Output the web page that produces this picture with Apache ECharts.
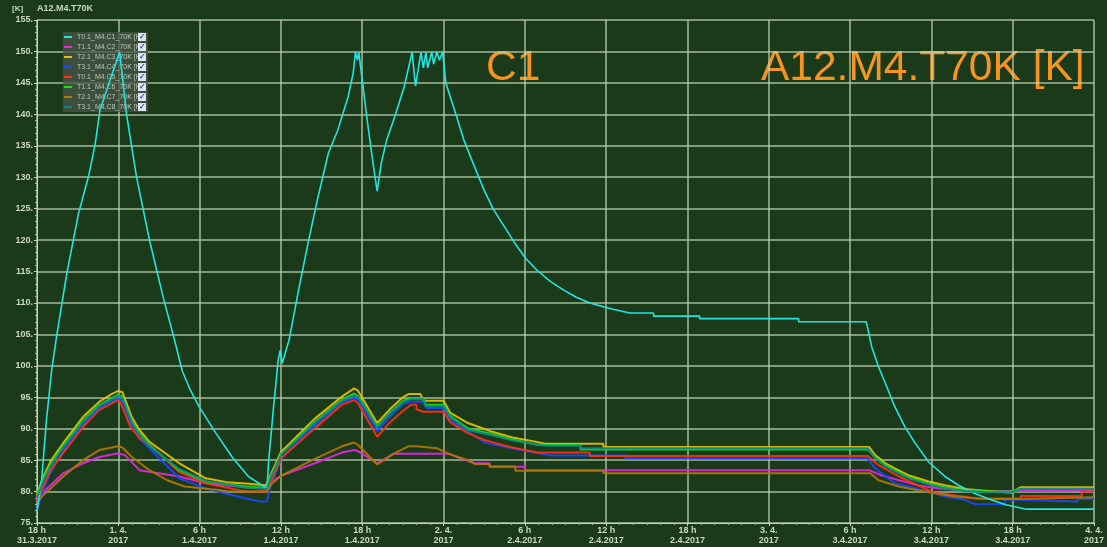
<!DOCTYPE html>
<html>
<head>
<meta charset="utf-8">
<title>A12.M4.T70K</title>
<script src="https://cdn.jsdelivr.net/npm/echarts@6/dist/echarts.min.js"></script>
<style>
  html, body { margin: 0; padding: 0; background: #1b3a1a; }
  #chart { width: 1107px; height: 547px; }
</style>
</head>
<body>
<div id="chart"></div>
<script>
// Time axis: hours elapsed since 31.3.2017 18:00, one tick every 6 h.
const startTime = Date.UTC(2017, 2, 31, 18, 0, 0);
const hourTicks = [0, 6, 12, 18, 24, 30, 36, 42, 48, 54, 60, 66, 72, 78];
const yTicks = [75, 80, 85, 90, 95, 100, 105, 110, 115, 120, 125, 130, 135, 140, 145, 150, 155];

const seriesNames = [
  'T0.1_M4.C1_70K [K]', 'T1.1_M4.C2_70K [K]', 'T2.1_M4.C3_70K [K]', 'T3.1_M4.C4_70K [K]',
  'T0.1_M4.C5_70K [K]', 'T1.1_M4.C6_70K [K]', 'T2.1_M4.C7_70K [K]', 'T3.1_M4.C8_70K [K]'
];
const seriesColors = ['#22e4e0', '#e626e0', '#e8c000', '#1c48ff', '#ff3010', '#14e014', '#b07800', '#0a8a86'];

// [hour, K]
const c1 = [[0,76.8],[0.15,79],[0.34,81.8],[0.7,91.4],[1.08,99.3],[1.47,105],[2.2,114.7],[3.06,124.2],[3.8,130.1],[4.28,135.1],[4.65,140.7],[5.4,145.5],[6.1,149.9],[6.16,150],[6.6,140.1],[7.34,130.1],[8.3,120],[9.3,111],[10.15,104.1],[10.7,99.3],[11.3,96.2],[11.96,93.5],[13.2,89.3],[14.4,85.5],[15.6,82.4],[16.6,81.0],[16.97,80.5],[17.1,85.0],[17.46,93.5],[17.8,100.9],[17.95,102.5],[18.1,100.4],[18.6,104.1],[19.3,112],[20.0,119.5],[20.7,126.5],[21.5,133.8],[22.2,137.5],[22.96,142.8],[23.33,146.5],[23.5,149.9],[23.65,148.6],[23.75,149.9],[23.94,146.5],[24.4,138.5],[24.8,132.2],[25.1,127.8],[25.4,132.2],[25.8,135.9],[26.4,139.6],[27.1,144.4],[27.68,149.9],[27.93,144.5],[28.34,149.9],[28.51,147.4],[28.7,149.9],[28.83,147.4],[29.13,149.9],[29.27,148],[29.51,149.9],[29.69,148.6],[29.93,149.9],[30.18,144.9],[30.9,140.1],[31.5,135.9],[32.3,131.6],[33.0,127.9],[33.7,124.8],[34.5,122.1],[35.2,119.7],[36.05,117.1],[36.9,115.2],[37.9,113.4],[38.9,112.0],[39.8,110.9],[40.8,110.0],[41.8,109.4],[42.5,109.0],[43.75,108.4],[45.5,108.4],[45.5,107.9],[48.9,107.9],[48.9,107.5],[56.2,107.5],[56.2,107.0],[61.2,107.0],[61.6,103.0],[62.1,99.85],[62.7,96.7],[63.3,93.5],[64.05,90.3],[64.8,87.7],[65.8,84.7],[67.0,82.4],[68.0,81.0],[69.2,79.7],[70.4,78.7],[71.5,77.9],[73.0,77.2],[78,77.2]];

const c2 = [[0,78.8],[0.5,80.0],[1.0,81.0],[1.93,82.9],[3.4,84.5],[4.6,85.5],[6.0,86.1],[6.5,85.8],[7.56,83.4],[10.5,82.4],[12.45,81.3],[15.4,80.7],[16.97,80.5],[17.3,81.5],[18.0,82.5],[20.5,84.5],[22.5,86.2],[23.4,86.6],[23.7,86.4],[25.1,84.5],[26.3,86.0],[30.4,86.0],[31.0,85.5],[31.8,84.9],[32.3,84.5],[33.4,84.5],[33.4,83.95],[36.0,83.95],[36.0,83.4],[61.4,83.4],[62.3,82.6],[63.6,81.8],[65.0,81.0],[66.5,80.5],[69.2,80.1],[72.6,80.1],[72.6,80.2],[78,80.2]];

const c3 = [[0,79.7],[0.5,82.5],[1.0,84.8],[1.93,87.7],[3.4,91.9],[4.6,94.3],[5.5,95.5],[6.0,96.0],[6.3,95.8],[7.0,91.8],[7.56,89.8],[8.3,87.9],[10.5,84.5],[12.45,82.1],[14,81.5],[15.4,81.3],[16.9,81.0],[17.2,82.5],[18.0,86.3],[20.5,91.6],[22.5,95.1],[23.4,96.4],[23.7,96.0],[25.1,90.9],[26.0,93.0],[27.0,95.0],[27.4,95.5],[28.3,95.5],[28.5,94.45],[30.0,94.45],[30.5,92.5],[31.8,90.9],[33.6,89.5],[35.1,88.6],[36.4,88.1],[37.5,87.6],[41.8,87.6],[41.8,87.1],[61.4,87.1],[61.85,85.8],[62.6,84.5],[63.3,83.7],[64.3,82.6],[65.8,81.6],[67.0,81.0],[68.45,80.4],[70.2,80.1],[71.9,79.8],[72.6,80.7],[78,80.7]];

const c4 = [[0,77.1],[0.5,80.5],[1.0,83.0],[1.93,86.5],[3.4,90.7],[4.6,93.3],[6.0,94.8],[6.3,94.4],[7.0,90.5],[7.56,88.4],[8.3,86.9],[10.5,82.1],[12.45,80.5],[15.4,78.9],[16.5,78.4],[16.97,78.4],[17.2,80.5],[18.0,85.2],[20.5,90.5],[22.5,94.2],[23.4,94.9],[23.7,94.6],[25.1,89.6],[26.0,91.8],[27.0,93.9],[27.6,94.3],[28.5,94.3],[28.7,93.3],[30.0,93.3],[30.5,91.4],[32.2,89.0],[33.0,87.8],[35.5,86.7],[36.5,86.3],[38.0,85.75],[43.4,85.75],[43.4,85.3],[61.3,85.3],[61.85,83.7],[63.3,81.3],[65.8,80.0],[67.0,79.2],[68.45,78.7],[69.2,78.0],[71.4,78.0],[71.4,78.7],[72.6,78.7],[72.6,78.4],[76.8,78.4],[76.8,78.8],[78,78.8]];

const c5 = [[0,78.4],[0.5,81.0],[1.0,83.4],[1.93,86.1],[3.4,90.3],[4.6,93.0],[6.0,94.55],[6.2,94.0],[6.9,90.3],[7.56,88.5],[8.3,87.4],[10.5,83.1],[12.45,81.3],[15.4,80.0],[16.97,80.0],[17.2,81.2],[18.0,85.3],[20.5,90.05],[22.5,93.8],[23.4,94.55],[23.7,94.0],[25.1,88.7],[26.0,90.9],[27.0,92.8],[27.6,93.8],[28.0,93.8],[28.0,93.1],[28.5,92.7],[30.0,92.7],[30.5,91.0],[31.8,89.3],[33.0,88.2],[34.9,87.1],[36.9,86.2],[40.8,86.2],[40.8,85.65],[61.3,85.65],[62.1,84.2],[63.6,82.4],[65.0,81.0],[66.25,79.8],[67.5,79.45],[69.4,78.9],[72.6,78.9],[72.6,79.3],[77.1,79.3],[77.1,80.0],[78,80.0]];

const c6 = [[0,79.5],[0.5,82.2],[1.0,84.4],[1.93,87.3],[3.4,91.4],[4.6,93.8],[6.0,95.4],[6.3,95.1],[7.0,91.2],[7.56,89.3],[8.3,87.4],[10.5,83.4],[12.45,81.6],[15.4,80.8],[16.9,80.6],[17.2,82.2],[18.0,86.0],[20.5,91.1],[22.5,94.6],[23.4,95.6],[23.7,95.2],[25.1,90.4],[26.0,92.5],[27.0,94.4],[27.6,94.9],[28.5,94.9],[28.7,93.8],[30.0,93.8],[30.5,92.0],[31.8,90.05],[33.5,89.2],[35.1,88.3],[37.0,87.4],[40.1,87.4],[40.1,86.7],[61.3,86.7],[61.85,85.5],[62.6,84.2],[63.3,83.4],[64.3,82.3],[65.8,81.3],[67.0,80.7],[68.45,80.2],[70.2,80.0],[71.9,80.0],[72.6,80.5],[78,80.5]];

const c7 = [[0,78.3],[0.5,79.5],[1.0,80.5],[1.93,82.4],[3.4,85.0],[4.6,86.6],[6.0,87.2],[6.3,87.0],[7.0,85.5],[8.3,83.4],[9.6,81.8],[10.9,80.8],[13.6,80.2],[14.1,80.0],[16.97,80.0],[17.3,81.2],[18.0,82.5],[20.5,85.2],[22.5,87.2],[23.4,87.8],[23.7,87.4],[25.1,84.3],[26.3,86.0],[27.4,87.2],[28.0,87.2],[28.0,86.9],[29.5,86.9],[30.4,86.0],[31.8,85.0],[32.3,84.4],[33.4,84.4],[33.4,84.0],[35.3,84.0],[35.3,83.3],[41.8,83.3],[41.8,82.9],[61.5,82.9],[62.1,81.8],[63.6,80.8],[65.0,80.2],[67.7,79.2],[69.9,78.8],[72.3,78.8],[72.3,79.1],[78,79.1]];

const c8 = [[0,79.0],[0.5,81.8],[1.0,84.0],[1.93,87.0],[3.4,91.1],[4.6,93.6],[6.0,95.2],[6.3,94.9],[7.0,91.0],[7.56,89.0],[8.3,87.2],[10.5,83.6],[12.45,81.7],[15.4,80.6],[16.97,80.4],[17.2,82.0],[18.0,85.8],[20.5,90.9],[22.5,94.4],[23.4,95.3],[23.7,95.0],[25.1,90.2],[26.0,92.3],[27.0,94.2],[27.6,94.7],[28.5,94.7],[28.7,93.6],[30.0,93.6],[30.5,91.8],[31.8,89.8],[33.5,89.0],[35.1,88.1],[37.5,87.3],[40.1,87.3],[40.1,86.9],[61.3,86.9],[61.85,85.3],[62.6,84.0],[63.3,83.2],[64.3,82.1],[65.8,81.1],[67.0,80.5],[68.45,80.1],[70.2,79.9],[71.9,79.9],[72.6,80.4],[78,80.4]];

const seriesData = [c1, c2, c3, c4, c5, c6, c7, c8];

const labelColor = '#c9d8c2';
const gridColor = 'rgba(190,212,180,0.62)';

function timeLabel(h) {
  const d = new Date(startTime + h * 3600000);
  const hr = d.getUTCHours(), day = d.getUTCDate(), mon = d.getUTCMonth() + 1, yr = d.getUTCFullYear();
  if (hr === 0) return day + '. ' + mon + '.\n' + yr;
  return hr + ' h\n' + day + '.' + mon + '.' + yr;
}

const chart = echarts.init(document.getElementById('chart'), null, { renderer: 'canvas' });

chart.setOption({
  backgroundColor: '#1b3a1a',
  animation: false,
  grid: { left: 37, right: 7, top: 20, bottom: 24, containLabel: false },
  legend: {
    orient: 'vertical',
    left: 63, top: 32,
    data: seriesNames,
    selectedMode: false,
    icon: 'rect',
    itemWidth: 8, itemHeight: 2, itemGap: 2,
    padding: [1, 2, 1, 1],
    backgroundColor: 'rgba(72,84,72,0.78)',
    formatter: function (name) { return '{n|' + name + '}{c|✓}'; },
    textStyle: {
      color: '#b8c6b6',
      fontFamily: 'Liberation Sans',
      fontSize: 7,
      rich: {
        n: { color: '#b8c6b6', fontSize: 7, fontFamily: 'Liberation Sans', width: 61, height: 8 },
        c: { color: '#2b4c8c', backgroundColor: '#dde5ee', fontSize: 8, fontWeight: 'bold', width: 8, height: 8, align: 'center', lineHeight: 8 }
      }
    }
  },
  xAxis: {
    type: 'value',
    min: 0, max: 78, interval: 6,
    axisLine: { show: true, lineStyle: { color: '#c8d6c0', width: 1 } },
    axisTick: { show: true, length: 3, lineStyle: { color: '#c8d6c0' } },
    minorTick: { show: true, splitNumber: 6, length: 2, lineStyle: { color: '#a8b8a0' } },
    splitLine: { show: true, lineStyle: { color: gridColor, width: 2 } },
    axisLabel: {
      color: labelColor, fontFamily: 'Liberation Sans', fontWeight: 'bold', fontSize: 9,
      lineHeight: 10, margin: 3, showMaxLabel: true, showMinLabel: true,
      formatter: function (v) { return hourTicks.indexOf(v) >= 0 ? timeLabel(v) : ''; }
    }
  },
  yAxis: {
    type: 'value',
    min: 75, max: 155, interval: 5,
    axisLine: { show: true, lineStyle: { color: '#c8d6c0', width: 1 } },
    axisTick: { show: true, length: 3, lineStyle: { color: '#c8d6c0' } },
    minorTick: { show: true, splitNumber: 5, length: 2, lineStyle: { color: '#a8b8a0' } },
    splitLine: { show: true, lineStyle: { color: gridColor, width: 2 } },
    axisLabel: {
      color: labelColor, fontFamily: 'Liberation Sans', fontWeight: 'bold', fontSize: 9, margin: 4,
      formatter: function (v) { return yTicks.indexOf(v) >= 0 ? v + '.' : ''; }
    }
  },
  series: seriesNames.map(function (name, i) {
    return {
      name: name,
      type: 'line',
      data: seriesData[i],
      showSymbol: false,
      symbol: 'none',
      color: seriesColors[i],
      z: i === 0 ? 10 : 3 + i,
      lineStyle: { color: seriesColors[i], width: i === 0 ? 1.6 : 2, opacity: i === 0 ? 1 : 0.92 }
    };
  }),
  graphic: [
    { type: 'text', left: 12, top: 5, style: { text: '[K]', fill: labelColor, font: 'bold 8px "Liberation Sans"' } },
    { type: 'text', left: 37, top: 4, style: { text: 'A12.M4.T70K', fill: labelColor, font: 'bold 9px "Liberation Sans"' } },
    { type: 'text', left: 486, top: 47, style: { text: 'C1', fill: '#f7941d', font: '42.5px "Liberation Sans"' } },
    { type: 'text', left: 761, top: 47, style: { text: 'A12.M4.T70K [K]', fill: '#f7941d', font: '42.5px "Liberation Sans"' } }
  ]
});
</script>
</body>
</html>
